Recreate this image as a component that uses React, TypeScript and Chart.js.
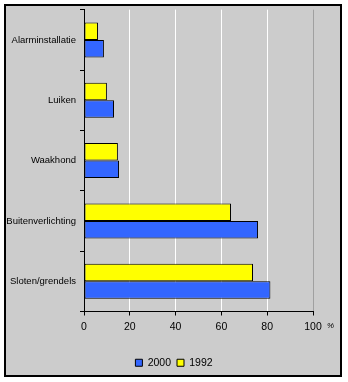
import React, { useEffect, useRef } from "react";
import { Chart, registerables } from "chart.js";

Chart.register(...registerables);

const categories = ["Alarminstallatie", "Luiken", "Waakhond", "Buitenverlichting", "Sloten/grendels"];
const values1992 = [6.1, 10.0, 14.8, 64.2, 73.8];
const values2000 = [8.7, 13.1, 15.3, 76.0, 81.4];
const xTicks = [0, 20, 40, 60, 80, 100];

const FONT = "'Liberation Sans', Arial, sans-serif";

const framePlugin = {
  id: "frame",
  afterLayout(chart: any) {
    const lg = chart.legend;
    if (lg) {
      const shift = 174 - (lg.left + lg.right) / 2;
      lg.left += shift;
      lg.right += shift;
    }
  },
  beforeDraw(chart: any) {
    const { ctx, width, height } = chart;
    ctx.save();
    ctx.fillStyle = "#ffffff";
    ctx.fillRect(0, 0, width, height);
    ctx.fillStyle = "#000000";
    ctx.fillRect(4, 4, 338, 373);
    ctx.fillStyle = "#cccccc";
    ctx.fillRect(6, 6, 334, 369);
    ctx.restore();
  },
  afterDraw(chart: any) {
    const { ctx } = chart;
    const xs = chart.scales.x;
    const x = xs.getPixelForValue(100);
    ctx.save();
    ctx.fillStyle = "#000000";
    ctx.font = "italic 8px " + FONT;
    ctx.textBaseline = "middle";
    ctx.fillText("%", x + 14, xs.top + 14);
    ctx.restore();
  },
};

export default function App() {
  const ref = useRef<HTMLCanvasElement | null>(null);
  useEffect(() => {
    if (!ref.current) return;
    const chart = new Chart(ref.current, {
      type: "bar",
      data: {
        labels: categories,
        datasets: [
          {
            label: "1992",
            data: values1992,
            backgroundColor: "#ffff00",
            borderColor: "#000000",
            borderWidth: 1,
            borderSkipped: false,
          },
          {
            label: "2000",
            data: values2000,
            backgroundColor: "#3366ff",
            borderColor: "#000000",
            borderWidth: 1,
            borderSkipped: false,
          },
        ],
      },
      options: {
        indexAxis: "y",
        animation: false,
        responsive: false,
        devicePixelRatio: 1,
        layout: { padding: { left: 0, top: 6, right: 35, bottom: 4 } },
        datasets: { bar: { categoryPercentage: 0.58, barPercentage: 1 } },
        scales: {
          x: {
            min: 0,
            max: 100,
            afterBuildTicks: (s: any) => {
              s.ticks = xTicks.map((v) => ({ value: v }));
            },
            afterFit: (s: any) => {
              s.height = 40;
            },
            grid: {
              color: (c: any) => (c.tick && c.tick.value === 100 ? "#a0a0a0" : c.tick && c.tick.value === 0 ? "rgba(0,0,0,0)" : "#ffffff"),
              tickColor: "#000000",
              tickLength: 4,
              lineWidth: 1,
            },
            border: { color: "#000000", width: 1 },
            ticks: { color: "#000000", font: { family: FONT, size: 10.5 }, padding: 5 },
          },
          y: {
            afterFit: (s: any) => {
              s.width = 84;
            },
            grid: {
              drawOnChartArea: false,
              tickColor: "#000000",
              tickLength: 4,
              offset: true,
            },
            border: { color: "#000000", width: 1 },
            ticks: { color: "#000000", font: { family: FONT, size: 9.5 }, padding: 4 },
          },
        },
        plugins: {
          legend: {
            position: "bottom",
            reverse: true,
            labels: {
              boxWidth: 7,
              boxHeight: 7,
              padding: 6,
              color: "#000000",
              font: { family: FONT, size: 10.5 },
            },
          },
          tooltip: { enabled: false },
        },
      },
      plugins: [framePlugin],
    });
    return () => chart.destroy();
  }, []);
  return (
    <div style={{ position: "fixed", left: 0, top: 0, width: 348, height: 382 }}>
      <canvas ref={ref} width={348} height={382} style={{ display: "block" }} />
    </div>
  );
}
